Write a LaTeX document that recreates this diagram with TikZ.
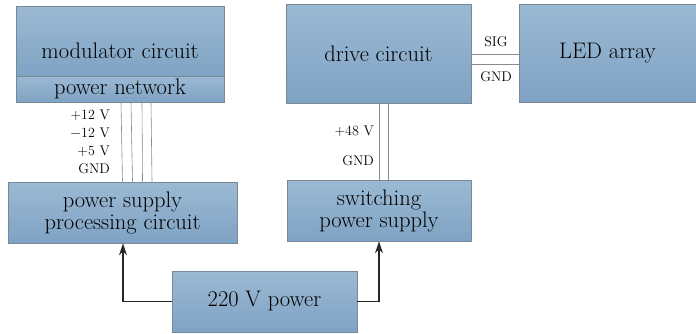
\documentclass[tikz,border=0pt]{standalone}
\usetikzlibrary{arrows.meta,calc}
\definecolor{boxtop}{HTML}{9BB9D3}
\definecolor{boxbot}{HTML}{7FA3C4}
\definecolor{boxline}{HTML}{7A8794}
\definecolor{wire}{HTML}{8A8A8A}
\begin{document}
\begin{tikzpicture}[x=1pt,y=-1pt,
  box/.style={rectangle,draw=boxline,line width=0.8pt,top color=boxtop,bottom color=boxbot,inner sep=0pt},
  big/.style={font=\fontsize{22.5}{22}\selectfont,align=center,inner sep=0pt},
  small/.style={font=\fontsize{14}{15}\selectfont,inner sep=0pt},
  wireline/.style={draw=wire,line width=0.6pt},
  power/.style={draw=black!85,line width=1.3pt,-{Stealth[length=12pt,width=8pt]}}]
\useasboundingbox (0,0) rectangle (696,333);
% boxes
\node[box,minimum width=208pt,minimum height=70pt] (mod) at (120,41) {};
\node[big] (modtxt) at (120,51) {modulator circuit};
\node[box,minimum width=208pt,minimum height=26pt] (pn) at (120,89) {};
\node[big] (pntxt) at (pn.center) {power network};
\node[box,big,minimum width=229pt,minimum height=61pt] (psp) at (122.5,212.5) {power supply\\processing circuit};
\node[box,big,minimum width=185pt,minimum height=99pt] (drive) at (378.5,53.5) {drive circuit};
\node[box,big,minimum width=177pt,minimum height=98pt] (led) at (607.5,53) {LED array};
\node[box,big,minimum width=184pt,minimum height=61pt] (sps) at (379,210.5) {switching\\power supply};
\node[box,big,minimum width=185pt,minimum height=61pt] (pwr) at (264.5,301.5) {220 V power};
% wires power network -> power supply processing
\draw[wireline] ($(pn.south)+(1,0)$) -- ($(psp.north)+(0,0)$);
\draw[wireline] ($(pn.south)+(11,0)$) -- ($(psp.north)+(10,0)$);
\draw[wireline] ($(pn.south)+(22,0)$) -- ($(psp.north)+(20,0)$);
\draw[wireline] ($(pn.south)+(31,0)$) -- ($(psp.north)+(29.5,0)$);
\node[small,anchor=east] (l1) at (110,115) {+12 V};
\node[small,anchor=east] (l2) at (110,133) {$-$12 V};
\node[small,anchor=east] (l3) at (110,151) {+5 V};
\node[small,anchor=east] (l4) at (110,169) {GND};
% drive -> LED
\draw[wireline] ($(drive.east)+(0,0.5)$) -- ($(led.west)+(0,1)$);
\draw[wireline] ($(drive.east)+(0,10.5)$) -- ($(led.west)+(0,11)$);
\node[small] (sig) at (496,42) {SIG};
\node[small] (gnd2) at (496,77) {GND};
% drive -> switching supply
\draw[wireline] ($(drive.south)+(0.5,0)$) -- ($(sps.north)+(0,0)$);
\draw[wireline] ($(drive.south)+(9.5,0)$) -- ($(sps.north)+(9,0)$);
\node[small,anchor=east] (v48) at (374,131) {+48 V};
\node[small,anchor=east] (gnd3) at (374,161) {GND};
% power arrows
\draw[power] (pwr.west) -| ($(psp.south)+(0.5,0)$);
\draw[power] (pwr.east) -| (sps.south);
\end{tikzpicture}
\end{document}
